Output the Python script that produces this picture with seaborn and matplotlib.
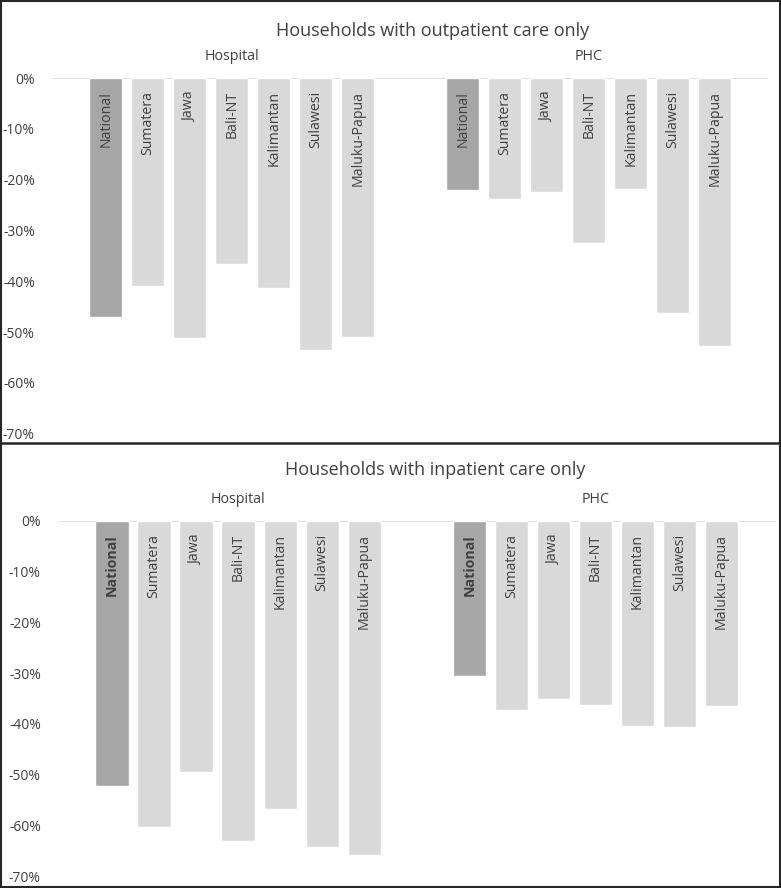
import numpy as np
import pandas as pd
import seaborn as sns
import matplotlib.pyplot as plt
from matplotlib.patches import Rectangle
from matplotlib.lines import Line2D
from matplotlib.ticker import FuncFormatter

regions = ["National", "Sumatera", "Jawa", "Bali-NT", "Kalimantan", "Sulawesi", "Maluku-Papua"]

# percent change
outpatient_hospital = [-47.0, -41.0, -51.2, -36.7, -41.4, -53.5, -50.9]
outpatient_phc = [-22.0, -23.9, -22.5, -32.4, -21.9, -46.2, -52.7]
inpatient_hospital = [-52.2, -60.3, -49.5, -63.0, -56.7, -64.3, -65.9]
inpatient_phc = [-30.5, -37.2, -35.0, -36.3, -40.4, -40.6, -36.5]

panel_titles = ["Households with outpatient care only", "Households with inpatient care only"]
groups = ["Hospital", "PHC"]
yticks = [0, -10, -20, -30, -40, -50, -60, -70]

sns.set_theme(style="white")
plt.rcParams["font.family"] = ["Open Sans", "DejaVu Sans"]
text_col = "#404040"
palette = {"national": "#a6a6a6", "region": "#d9d9d9"}


def make_frame(hosp, phc):
    pos = list(range(7)) + [8.5 + i for i in range(7)]
    vals = list(hosp) + list(phc)
    kind = ["national" if r == "National" else "region" for r in regions] * 2
    return pd.DataFrame({"pos": pos, "value": vals, "kind": kind, "label": regions * 2})


def draw_panel(ax, df, bold_national):
    sns.barplot(data=df, x="pos", y="value", hue="kind", palette=palette,
                native_scale=True, dodge=False, width=0.79, legend=False,
                saturation=1, ax=ax)
    ax.axhline(0, color="#d9d9d9", lw=1.2, zorder=0)
    ax.set_xlim(-1.26, 15.77)
    ax.set_ylim(-70, 0)
    ax.set_yticks(yticks)
    ax.yaxis.set_major_formatter(FuncFormatter(lambda v, p: f"{v:.0f}%"))
    ax.tick_params(axis="y", length=0, pad=13, labelsize=10, labelcolor=text_col)
    ax.set_xticks([])
    ax.set_xlabel("")
    ax.set_ylabel("")
    for s in ax.spines.values():
        s.set_visible(False)
    for _, row in df.iterrows():
        weight = "bold" if (bold_national and row["label"] == "National") else "normal"
        ax.text(row["pos"], -2.6, row["label"], rotation=90, ha="center", va="top",
                fontsize=10.2, color=text_col, fontweight=weight)
    ax.text(3, 4.3, groups[0], ha="center", va="center", fontsize=10.3,
            color=text_col, clip_on=False)
    ax.text(11.5, 4.3, groups[1], ha="center", va="center", fontsize=10.3,
            color=text_col, clip_on=False)


W, H = 781, 888
fig = plt.figure(figsize=(W / 100, H / 100), dpi=100)

ax1 = fig.add_axes([53 / W, 1 - 433.7 / H, 715 / W, 355.7 / H])
ax2 = fig.add_axes([59 / W, 1 - 876 / H, 716 / W, 355 / H])

draw_panel(ax1, make_frame(outpatient_hospital, outpatient_phc), False)
draw_panel(ax2, make_frame(inpatient_hospital, inpatient_phc), True)

fig.text(433 / W, 1 - 31.5 / H, panel_titles[0], ha="center", va="center",
         fontsize=13, color=text_col)
fig.text(435 / W, 1 - 470 / H, panel_titles[1], ha="center", va="center",
         fontsize=13, color=text_col)

# panel frames
fig.add_artist(Rectangle((0.5 / W, 1.5 / H), 1 - 2 / W, 1 - 3 / H, fill=False,
                         edgecolor="#262626", lw=1.5, transform=fig.transFigure))
fig.add_artist(Line2D([0, 1], [1 - 443.3 / H, 1 - 443.3 / H], color="#262626",
                      lw=1.8, transform=fig.transFigure))

fig.savefig("out.png", dpi=100, facecolor="white")
